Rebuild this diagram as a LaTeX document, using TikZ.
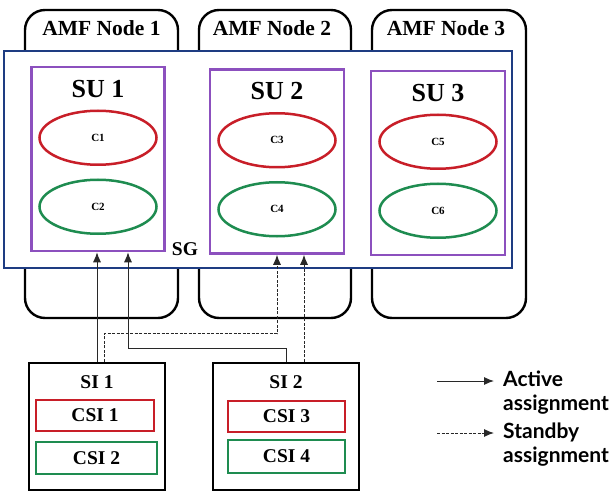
\documentclass[tikz,border=0pt]{standalone}
\usepackage{fontspec}
\setmainfont{Liberation Serif}
\newfontfamily\legendfont{Lato}
\usetikzlibrary{arrows.meta,shapes.geometric}
\definecolor{sgblue}{RGB}{30,60,130}
\definecolor{supurple}{RGB}{140,80,190}
\definecolor{cred}{RGB}{200,30,40}
\definecolor{cgreen}{RGB}{30,140,80}
\definecolor{arrowgray}{RGB}{40,40,40}

\begin{document}
\begin{tikzpicture}[x=1pt, y=-1pt,
    amfnode/.style={draw, line width=2.4pt, rounded corners=20pt, inner sep=0pt,
      minimum width=153pt, minimum height=308pt},
    amflabel/.style={font=\fontsize{21.5}{24}\selectfont\bfseries, below=8pt},
    subox/.style={draw=supurple, line width=2.5pt, fill=white, inner sep=0pt,
      minimum width=133pt, minimum height=184pt},
    sulabel/.style={font=\fontsize{26}{28}\selectfont\bfseries, below=11pt},
    comp/.style={ellipse, draw=#1, line width=2.5pt, inner sep=0pt,
      minimum width=117pt, minimum height=54pt, font=\fontsize{11}{12}\selectfont\bfseries},
    sibox/.style={draw, line width=2.5pt, inner sep=0pt,
      minimum width=#1, minimum height=127pt},
    csibox/.style={draw=#1, line width=2.5pt, inner sep=0pt,
      minimum width=118pt, minimum height=31pt, font=\fontsize{19.5}{22}\selectfont\bfseries},
    active/.style={draw=arrowgray, line width=1pt, -{Latex[length=10pt,width=8pt]}},
    standby/.style={active, dash pattern=on 3pt off 1.5pt}]
  \useasboundingbox (0,0) rectangle (616,492);

  % AMF nodes
  \node[amfnode] (n1) at (101.5,164) {};
  \node[amfnode, minimum width=152pt] (n2) at (275,164) {};
  \node[amfnode, minimum width=154pt] (n3) at (449,164) {};
  \node[amflabel] (n1l) at (n1.north) {AMF Node 1};
  \node[amflabel] (n2l) at ([xshift=-3pt]n2.north) {AMF Node 2};
  \node[amflabel] (n3l) at ([xshift=-3pt]n3.north) {AMF Node 3};

  % service group
  \node[draw=sgblue, line width=2pt, fill=white, inner sep=0pt,
    minimum width=508pt, minimum height=217pt] (sg) at (258,159.5) {};
  \node[font=\fontsize{19.5}{22}\selectfont\bfseries] (sgl) at (185,249) {SG};

  % service units
  \node[subox] (su1) at (98,159) {};
  \node[subox, minimum width=134pt] (su2) at (277,161.5) {};
  \node[subox, minimum width=134pt] (su3) at (438,163) {};
  \foreach \s/\a/\b in {1/1/2, 2/3/4, 3/5/6}{
    \node[sulabel] (su\s l) at (su\s.north) {SU \s};
    \node[comp=cred] (c\a) at ([yshift=-72pt]su\s.north) {C\a};
    \node[comp=cgreen] (c\b) at ([yshift=-141pt]su\s.north) {C\b};
  }

  % service instances
  \node[sibox=136pt] (si1) at (97,426.5) {};
  \node[sibox=146pt] (si2) at (286,426.5) {};
  \node[font=\fontsize{19.5}{22}\selectfont\bfseries, below=10pt] (si1l) at (si1.north) {SI 1};
  \node[font=\fontsize{19.5}{22}\selectfont\bfseries, below=10pt] (si2l) at (si2.north) {SI 2};
  \node[csibox=cred] (csi1) at (95,415.5) {CSI 1};
  \node[csibox=cgreen, minimum width=121pt, minimum height=32pt] (csi2) at (96.5,458) {CSI 2};
  \node[csibox=cred, minimum width=117pt] (csi3) at (286.5,416.5) {CSI 3};
  \node[csibox=cgreen, minimum width=117pt, minimum height=33pt] (csi4) at (286.5,456.5) {CSI 4};

  % assignments
  \draw[active] (si1.north) -- (si1.north |- su1.south);
  \draw[active] (si2.north) -- ++(0,-13) -| ([xshift=30pt]su1.south);
  \draw[standby] ([xshift=7pt]si1.north) -- ++(0,-28) -| (su2.south);
  \draw[standby] ([xshift=18pt]si2.north) -- ([xshift=18pt]si2.north |- su2.south);

  % legend
  \coordinate (la1) at (437,381);
  \coordinate (la2) at (494,381);
  \coordinate (lb1) at (437,433);
  \coordinate (lb2) at (494,433);
  \draw[active] (la1) -- (la2);
  \draw[standby] (lb1) -- (lb2);
  \node[anchor=west, align=left, inner sep=0pt, font=\legendfont\fontsize{21}{24}\selectfont\bfseries]
    (lga) at (503,393) {Active\\assignment};
  \node[anchor=west, align=left, inner sep=0pt, font=\legendfont\fontsize{21}{24}\selectfont\bfseries]
    (lgb) at (503,445) {Standby\\assignment};
\end{tikzpicture}
\end{document}
